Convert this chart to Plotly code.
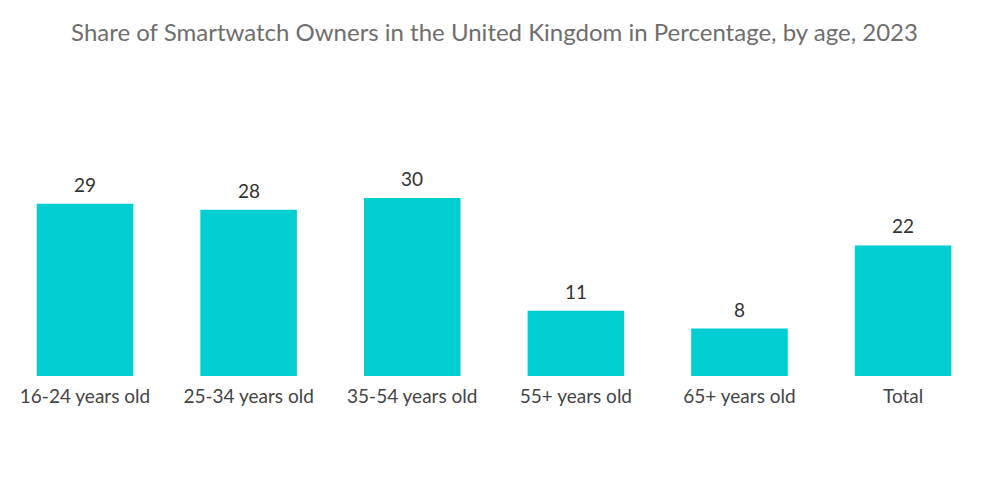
import plotly.graph_objects as go

categories = ["16-24 years old", "25-34 years old", "35-54 years old", "55+ years old", "65+ years old", "Total"]
values = [29, 28, 30, 11, 8, 22]

fig = go.Figure(go.Bar(
    x=list(range(len(categories))), y=values,
    marker=dict(color="#00CED1", line=dict(width=0)),
    width=0.59,
))
for i, v in enumerate(values):
    fig.add_annotation(x=i, y=v, text=str(v), showarrow=False, yanchor="bottom", yshift=6,
                       font=dict(family="Lato, sans-serif", size=19, color="#333333"))
fig.update_layout(
    width=1000, height=504,
    margin=dict(l=0, r=10, t=92, b=136),
    paper_bgcolor="white", plot_bgcolor="white",
    title=dict(text="Share of Smartwatch Owners in the United Kingdom in Percentage, by age, 2023",
               x=0.4865, xref="container", xanchor="center", y=0.952, yref="container", yanchor="middle",
               font=dict(family="Lato, sans-serif", size=24, color="#6e6e6e")),
    showlegend=False,
    xaxis=dict(showline=False, showgrid=False, ticks="", range=[-0.4706, 5.580],
               tickmode="array", tickvals=list(range(len(categories))), ticktext=categories,
               ticklabelstandoff=7,
               tickfont=dict(family="Lato, sans-serif", size=19, color="#444444")),
    yaxis=dict(visible=False, range=[0, 46.5]),
)
fig.write_html("out.html")
